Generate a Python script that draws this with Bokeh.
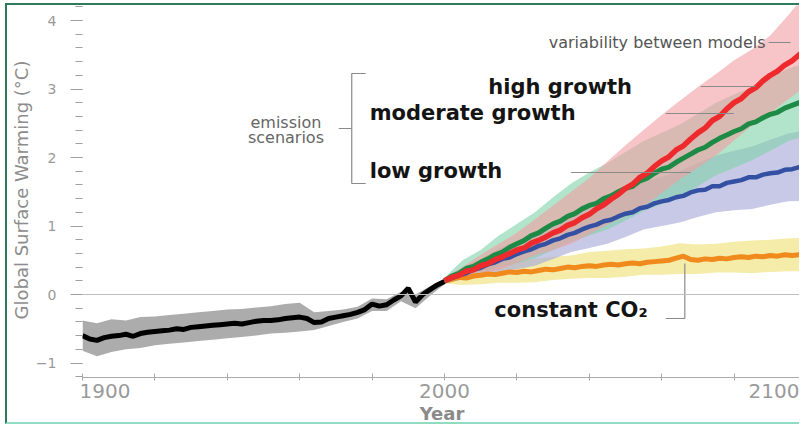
import numpy as np
from bokeh.plotting import figure
from bokeh.models import Range1d, Label, Span, FixedTicker, SingleIntervalTicker, Title
from bokeh.embed import file_html
from bokeh.resources import INLINE

# ---------------- data ----------------
hist_years = list(range(1900, 2001, 2))
hist_vals = [-0.60, -0.65, -0.67, -0.63, -0.61, -0.60, -0.58, -0.61, -0.57, -0.55,
             -0.54, -0.53, -0.52, -0.50, -0.51, -0.48, -0.47, -0.46, -0.45, -0.44,
             -0.43, -0.42, -0.43, -0.41, -0.39, -0.38, -0.38, -0.37, -0.35, -0.34,
             -0.33, -0.35, -0.41, -0.40, -0.35, -0.33, -0.31, -0.29, -0.26, -0.22,
             -0.14, -0.17, -0.15, -0.08, -0.02, 0.09, -0.11, 0.00, 0.07, 0.14, 0.19]

hist_band_years = list(range(1900, 2001, 4))
hist_lo = [-0.82, -0.90, -0.84, -0.80, -0.78, -0.74, -0.72, -0.70, -0.68, -0.66,
           -0.64, -0.62, -0.60, -0.57, -0.56, -0.54, -0.52, -0.46, -0.40, -0.35,
           -0.24, -0.24, -0.10, -0.20, -0.02, 0.15]
hist_hi = [-0.38, -0.42, -0.36, -0.38, -0.33, -0.32, -0.30, -0.28, -0.26, -0.24,
           -0.22, -0.21, -0.19, -0.17, -0.14, -0.12, -0.26, -0.24, -0.22, -0.18,
           -0.06, -0.07, 0.04, 0.00, 0.12, 0.23]

proj_years = list(range(2000, 2101, 2))
high_growth = [0.20, 0.25, 0.28, 0.34, 0.36, 0.42, 0.45, 0.51, 0.55, 0.60,
               0.65, 0.68, 0.75, 0.79, 0.84, 0.90, 0.94, 1.01, 1.05, 1.12,
               1.17, 1.25, 1.31, 1.39, 1.46, 1.55, 1.61, 1.71, 1.77, 1.87,
               1.95, 2.01, 2.11, 2.17, 2.27, 2.36, 2.43, 2.54, 2.60, 2.71,
               2.80, 2.86, 2.96, 3.02, 3.12, 3.20, 3.26, 3.35, 3.41, 3.50, 3.58]
moderate_growth = [0.20, 0.27, 0.31, 0.38, 0.41, 0.47, 0.52, 0.58, 0.62, 0.69,
                   0.74, 0.79, 0.86, 0.90, 0.97, 1.03, 1.07, 1.14, 1.18, 1.25,
                   1.30, 1.33, 1.40, 1.44, 1.50, 1.55, 1.58, 1.66, 1.70, 1.77,
                   1.83, 1.86, 1.93, 1.99, 2.05, 2.11, 2.15, 2.22, 2.28, 2.33,
                   2.38, 2.42, 2.49, 2.52, 2.58, 2.63, 2.66, 2.72, 2.76, 2.80, 2.84]
low_growth = [0.20, 0.24, 0.28, 0.31, 0.36, 0.39, 0.44, 0.47, 0.52, 0.54,
              0.59, 0.63, 0.66, 0.71, 0.74, 0.79, 0.82, 0.87, 0.90, 0.95,
              0.99, 1.02, 1.07, 1.09, 1.14, 1.18, 1.20, 1.26, 1.28, 1.33,
              1.36, 1.38, 1.42, 1.44, 1.49, 1.52, 1.53, 1.58, 1.58, 1.63,
              1.65, 1.67, 1.71, 1.71, 1.75, 1.77, 1.78, 1.82, 1.83, 1.86, 1.88]
constant_co2 = [0.20, 0.22, 0.25, 0.24, 0.27, 0.28, 0.30, 0.29, 0.31, 0.33,
                0.32, 0.34, 0.33, 0.35, 0.37, 0.36, 0.38, 0.40, 0.39, 0.41,
                0.42, 0.41, 0.43, 0.44, 0.43, 0.45, 0.46, 0.45, 0.47, 0.48,
                0.49, 0.50, 0.53, 0.56, 0.51, 0.50, 0.52, 0.51, 0.53, 0.52,
                0.54, 0.55, 0.54, 0.56, 0.55, 0.57, 0.56, 0.58, 0.57, 0.58, 0.59]

band_years = list(range(2000, 2101, 5))
high_lo = [0.17, 0.24, 0.30, 0.36, 0.46, 0.57, 0.65, 0.74, 0.88, 1.02, 1.15,
           1.28, 1.48, 1.68, 1.85, 2.03, 2.25, 2.47, 2.65, 2.85, 3.05]
high_hi = [0.24, 0.40, 0.58, 0.74, 0.90, 1.10, 1.30, 1.50, 1.70, 1.94, 2.18,
           2.40, 2.62, 2.83, 3.03, 3.22, 3.42, 3.58, 3.78, 4.08, 4.40]
mod_lo = [0.15, 0.25, 0.31, 0.40, 0.46, 0.53, 0.65, 0.77, 0.86, 0.95, 1.08,
          1.22, 1.32, 1.43, 1.58, 1.74, 1.85, 1.96, 2.10, 2.24, 2.32]
mod_hi = [0.25, 0.50, 0.65, 0.86, 1.03, 1.20, 1.42, 1.62, 1.78, 1.92, 2.08,
          2.24, 2.36, 2.48, 2.64, 2.80, 2.92, 3.03, 3.17, 3.30, 3.38]
low_lo = [0.16, 0.22, 0.26, 0.33, 0.37, 0.42, 0.52, 0.62, 0.68, 0.74, 0.84,
          0.95, 1.00, 1.05, 1.13, 1.20, 1.23, 1.25, 1.31, 1.36, 1.37]
low_hi = [0.24, 0.40, 0.52, 0.67, 0.78, 0.89, 1.04, 1.18, 1.28, 1.38, 1.51,
          1.64, 1.72, 1.80, 1.92, 2.03, 2.10, 2.16, 2.26, 2.35, 2.40]
co2_lo = [0.16, 0.14, 0.15, 0.17, 0.17, 0.18, 0.21, 0.23, 0.24, 0.24, 0.26,
          0.29, 0.29, 0.30, 0.30, 0.32, 0.32, 0.31, 0.33, 0.34, 0.34]
co2_hi = [0.24, 0.36, 0.42, 0.45, 0.49, 0.52, 0.55, 0.57, 0.62, 0.64, 0.66,
          0.67, 0.70, 0.75, 0.73, 0.74, 0.77, 0.79, 0.80, 0.82, 0.83]

x_minor_ticks = [1900, 1920, 1940, 1960, 1980, 2000, 2020, 2040, 2060, 2080]
x_tick_labels = ["1900", "2000", "2100"]

# ---------------- figure ----------------
FONT = "DejaVu Sans"
GRAY = "#9a9a9a"
LEAD = "#8a8a8a"

# reference pixel -> data helpers (page pixels)
def X(px):
    return 1900 + (px - 80) / 3.63

def Y(py):
    return (294 - py) / 68.5

p = figure(width=794, height=421, output_backend="svg", toolbar_location=None,
           x_range=Range1d(X(80), X(801)), y_range=Range1d(Y(377), Y(5)),
           min_border_left=73, min_border_right=0, min_border_top=0,
           min_border_bottom=49)
p.styles = {"margin-left": "5px", "margin-top": "3px",
            "border-left": "2px solid #2f7a5c", "border-top": "2px solid #2f7a5c",
            "border-bottom": "2px solid #8fdcc0"}
p.outline_line_color = None
p.grid.visible = False
p.background_fill_color = "white"
p.border_fill_color = "white"

# x axis: tick marks every 20 years; labels placed as in the reference picture
label_pos = [X(102.5), X(443), X(775.5)]
xa = p.xaxis[0]
xa.ticker = FixedTicker(ticks=label_pos, minor_ticks=x_minor_ticks)
xa.major_label_overrides = {v: t for v, t in zip(label_pos, x_tick_labels)}
xa.major_tick_line_color = None
xa.minor_tick_in = 4
xa.minor_tick_out = 3
xa.minor_tick_line_color = "#aaaaaa"
xa.axis_line_color = "#aaaaaa"
xa.major_label_text_font = FONT
xa.major_label_text_font_size = "20px"
xa.major_label_text_color = GRAY
xa.major_label_standoff = 0
xa.axis_label = "Year"
xa.axis_label_text_font = FONT
xa.axis_label_text_font_size = "18px"
xa.axis_label_text_font_style = "bold"
xa.axis_label_text_color = "#8a8a8a"
xa.axis_label_standoff = 2

ya = p.yaxis[0]
ya.ticker = SingleIntervalTicker(interval=1, num_minor_ticks=5)
ya.axis_line_color = None
ya.major_tick_in = 0
ya.major_tick_out = 12
ya.minor_tick_in = 0
ya.minor_tick_out = 7
ya.major_tick_line_color = "#a0a0a0"
ya.minor_tick_line_color = "#a0a0a0"
ya.major_label_text_font = FONT
ya.major_label_text_font_size = "14px"
ya.major_label_text_color = GRAY
ya.major_label_standoff = 14

p.add_layout(Title(text="Global Surface Warming (°C)", align="left", offset=58,
                   text_font=FONT, text_font_size="18px", text_font_style="normal",
                   text_color="#8c8c8c", standoff=2), "left")

p.add_layout(Span(location=0, dimension="width", line_color="#c0c0c0", line_width=1))

# bands
p.varea(x=hist_band_years, y1=hist_lo, y2=hist_hi, fill_color="#a3a3a3", fill_alpha=0.9)
p.varea(x=band_years, y1=co2_lo, y2=co2_hi, fill_color="#eee27a", fill_alpha=0.65)
p.varea(x=band_years, y1=low_lo, y2=low_hi, fill_color="#a9acd8", fill_alpha=0.65)
p.varea(x=band_years, y1=mod_lo, y2=mod_hi, fill_color="#7fd2a8", fill_alpha=0.6)
p.varea(x=band_years, y1=high_lo, y2=high_hi, fill_color="#f29ea1", fill_alpha=0.6)

# lines
p.line(hist_years, hist_vals, line_color="black", line_width=5)
p.line(proj_years, constant_co2, line_color="#f08a1c", line_width=5)
p.line(proj_years, low_growth, line_color="#3350a2", line_width=4.5)
p.line(proj_years, moderate_growth, line_color="#1d8a45", line_width=5)
p.line(proj_years, high_growth, line_color="#ee2a2c", line_width=5.5)

def lead(xs, ys):
    p.line([X(v) for v in xs], [Y(v) for v in ys], line_color=LEAD, line_width=1.2)

def label(txt, px, py, size, color, align="left", bold=False):
    p.add_layout(Label(x=X(px), y=Y(py), text=txt, text_font=FONT,
                       text_font_size=size, text_color=color, text_align=align,
                       text_baseline="middle",
                       text_font_style="bold" if bold else "normal"))

# annotations
label("variability between models", 765, 42, "16px", "#555555", align="right")
lead([768, 790], [42, 42])
label("high growth", 487, 86, "21px", "#141414", bold=True)
lead([700, 755], [86, 86])
label("moderate growth", 368, 112, "21px", "#141414", bold=True)
lead([665, 733], [113, 113])
label("low growth", 368, 170, "21px", "#141414", bold=True)
lead([570, 690], [172, 172])
label("emission", 284, 122, "16px", "#666666", align="center")
label("scenarios", 284, 137, "16px", "#666666", align="center")
lead([364, 350, 350, 364], [73, 73, 183, 183])
lead([337, 350], [128, 128])
label("constant CO₂", 493, 309, "21px", "#141414", bold=True)
lead([665, 684, 684], [318, 318, 263])

open("out.html", "w").write(file_html(p, INLINE))
